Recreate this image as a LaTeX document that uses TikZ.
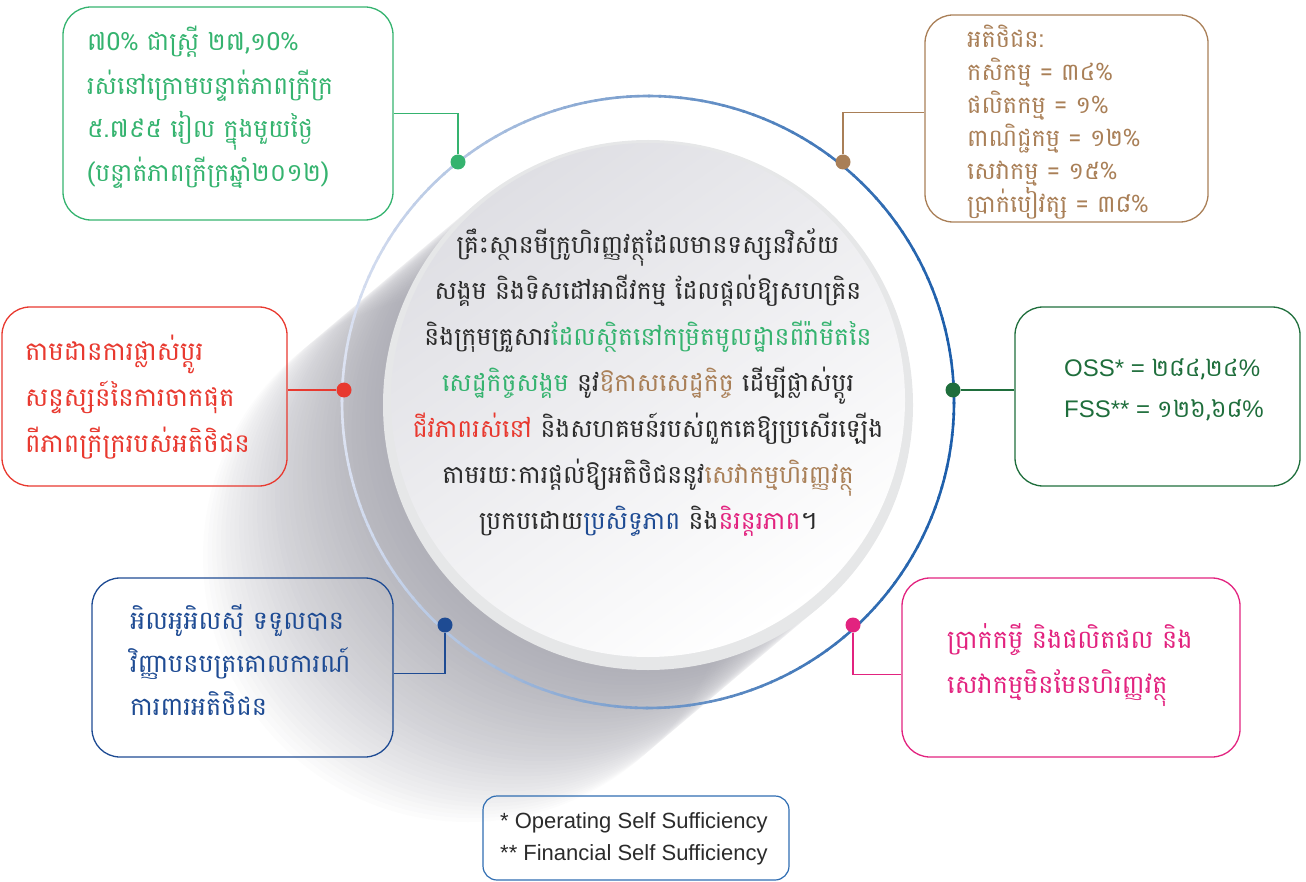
\documentclass[tikz,border=0pt]{standalone}
\usepackage{fontspec}
\setmainfont{Liberation Sans}
\newfontfamily\kh[Script=Khmer]{Battambang}
\newcommand\khfix{\lineskiplimit=-60pt\relax}
\usetikzlibrary{calc}
\definecolor{cgreen}{HTML}{35B36F}
\definecolor{cbrown}{HTML}{A97F57}
\definecolor{cred}{HTML}{E8392F}
\definecolor{cdgreen}{HTML}{1F6E3C}
\definecolor{cblue}{HTML}{1E4B93}
\definecolor{cmag}{HTML}{E2237F}
\definecolor{ctext}{HTML}{2B2B2B}
\definecolor{ringdark}{HTML}{1B5DAA}
\definecolor{ringlight}{HTML}{DCE2F2}
\definecolor{footblue}{HTML}{2F6DB2}
\definecolor{shadowc}{HTML}{70707E}
\definecolor{discgray}{HTML}{DFDFE4}
\definecolor{discrim}{HTML}{E6E7E8}
\tikzset{
  box/.style={draw, rounded corners=28pt, line width=1.3pt},
  dotnode/.style={circle, inner sep=0pt, minimum size=15pt},
  txt/.style={anchor=west, align=left, inner sep=0pt},
  conn/.style={line width=1.3pt},
}
\begin{document}
\begin{tikzpicture}[x=1pt,y=-1pt]
\useasboundingbox (0,0) rectangle (1306,882);
% shadow
\foreach \i in {1,...,40}{
  \fill[shadowc, opacity=0.021] (648-4.5*\i, 405+3.8*\i) circle[radius=265];
}
% disc
\fill[discrim] (648,405) circle[radius=265];
\shade[top color=discgray, bottom color=white, shading angle=35] (648,400) circle[radius=257];
% ring
\foreach \a in {0,2,...,358}{
  \pgfmathtruncatemacro\dk{100*((1.001+cos(\a))/2)^0.9}
  \draw[line width=2.6pt, color=ringdark!\dk!ringlight] ([shift={(648,402)}]\a:306) arc[start angle=\a, end angle=\a+2.4, radius=306];
}
% boxes
\node[box, draw=cgreen, minimum width=330pt, minimum height=213pt] (gbox) at (228,113.5) {};
\node[box, draw=cbrown, minimum width=283pt, minimum height=207pt] (bbox) at (1066.5,118.5) {};
\node[box, draw=cred, minimum width=285pt, minimum height=179pt] (rbox) at (144.5,396.5) {};
\node[box, draw=cdgreen, minimum width=285pt, minimum height=179pt] (dbox) at (1157.5,396.5) {};
\node[box, draw=cblue, minimum width=301pt, minimum height=179pt] (lbox) at (242.5,667.5) {};
\node[box, draw=cmag, minimum width=338pt, minimum height=179pt] (mbox) at (1071,667.5) {};
\node[box, draw=footblue, rounded corners=14pt, line width=1.2pt, minimum width=306pt, minimum height=84pt] (fbox) at (636,838) {};
% dots
\node[dotnode, fill=cgreen] (gdot) at (458,162) {};
\node[dotnode, fill=cbrown] (bdot) at (843,162) {};
\node[dotnode, fill=cred] (rdot) at (344,390) {};
\node[dotnode, fill=cdgreen] (ddot) at (953,390) {};
\node[dotnode, fill=cblue] (ldot) at (445,625) {};
\node[dotnode, fill=cmag] (mdot) at (853,625) {};
% connectors
\draw[conn, cgreen] (gdot) |- (gbox.east);
\draw[conn, cbrown] (bdot) |- ([yshift=6pt]bbox.west);
\draw[conn, cred] (rdot) -- (rbox.east |- rdot);
\draw[conn, cdgreen] (ddot) -- (dbox.west |- ddot);
\draw[conn, cblue] (ldot) |- ([yshift=-6pt]lbox.east);
\draw[conn, cmag] (mdot) |- ([yshift=-7pt]mbox.west);
% texts
\node[txt, text=cgreen, font=\kh\fontsize{25}{43.5}\selectfont\khfix] (gtxt) at (87,107) {%
៧0\% ជាស្ត្រី ២៧,១0\%\\
រស់នៅក្រោមបន្ទាត់ភាពក្រីក្រ\\
៥.៧៩៥ រៀល ក្នុងមួយថ្ងៃ\\
(បន្ទាត់ភាពក្រីក្រឆ្នាំ២០១២)};
\node[txt, text=cbrown, font=\kh\fontsize{24}{33}\selectfont\khfix] (btxt) at (967,122) {%
អតិថិជន:\\
កសិកម្ម = ៣៤\%\\
ផលិតកម្ម = ១\%\\
ពាណិជ្ជកម្ម = ១២\%\\
សេវាកម្ម = ១៥\%\\
ប្រាក់បៀវត្ស = ៣៨\%};
\node[txt, text=cred, font=\kh\fontsize{26}{46}\selectfont\khfix] (rtxt) at (25,397) {%
តាមដានការផ្លាស់ប្តូរ\\
សន្ទស្សន៍នៃការចាកផុត\\
ពីភាពក្រីក្ររបស់អតិថិជន};
\node[txt, text=cdgreen, font=\fontsize{24}{41}\selectfont] (dtxt) at (1064,390) {%
OSS* = {\kh ២៨៤,២៤}\%\\
FSS** = {\kh ១២៦,៦៨}\%};
\node[txt, text=cblue, font=\kh\fontsize{25.5}{43}\selectfont\khfix] (ltxt) at (130,660) {%
អិលអូអិលស៊ី ទទួលបាន\\
វិញ្ញាបនបត្រគោលការណ៍\\
ការពារអតិថិជន};
\node[txt, text=cmag, font=\kh\fontsize{25.5}{45}\selectfont\khfix] (mtxt) at (947,665) {%
ប្រាក់កម្ចី និងផលិតផល និង\\
សេវាកម្មមិនមែនហិរញ្ញវត្ថុ};
\node[txt, text=ctext, font=\fontsize{22}{32}\selectfont] (ftxt) at (500,839) {%
* Operating Self Sufficiency\\
** Financial Self Sufficiency};
\node[align=center, inner sep=0pt, text=ctext, font=\kh\fontsize{25}{46}\selectfont\khfix] (disctxt) at (648,383) {%
គ្រឹះស្ថានមីក្រូហិរញ្ញវត្ថុដែលមានទស្សនវិស័យ\\
សង្គម និងទិសដៅអាជីវកម្ម ដែលផ្តល់ឱ្យសហគ្រិន\\
និងក្រុមគ្រួសារ\textcolor{cgreen}{ដែលស្ថិតនៅកម្រិតមូលដ្ឋានពីរ៉ាមីតនៃ}\\
\textcolor{cgreen}{សេដ្ឋកិច្ចសង្គម} នូវ\textcolor{cbrown}{ឱកាសសេដ្ឋកិច្ច} ដើម្បីផ្លាស់ប្តូរ\\
\textcolor{cred}{ជីវភាពរស់នៅ} និងសហគមន៍របស់ពួកគេឱ្យប្រសើរឡើង\\
តាមរយៈការផ្តល់ឱ្យអតិថិជននូវ\textcolor{cbrown}{សេវាកម្មហិរញ្ញវត្ថុ}\\
ប្រកបដោយ\textcolor{cblue}{ប្រសិទ្ធភាព} និង\textcolor{cmag}{និរន្តរភាព}។};
\end{tikzpicture}
\end{document}
